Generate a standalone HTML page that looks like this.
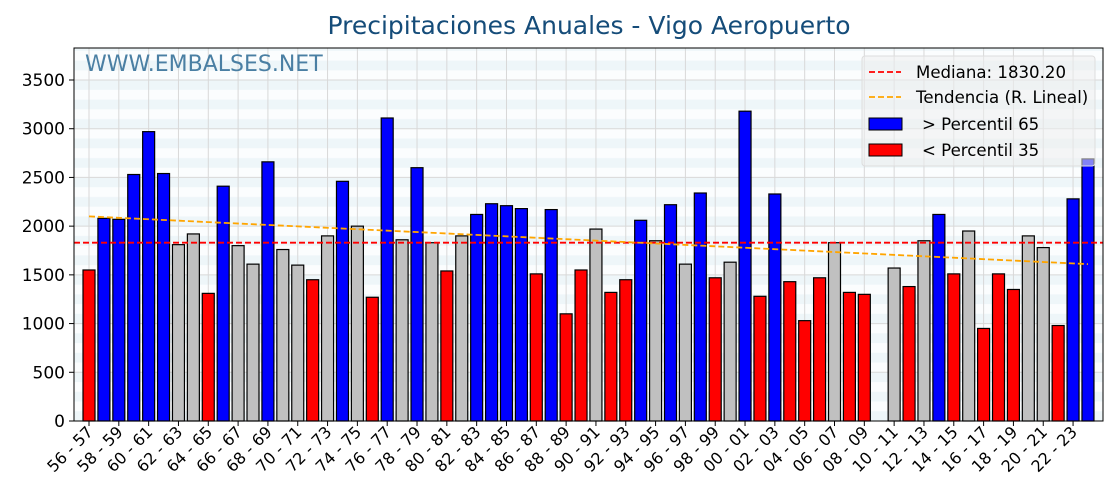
<!DOCTYPE html>
<html><head><meta charset="utf-8"><style>
body{margin:0;background:#fff;}
svg{display:block;font-family:"DejaVu Sans","Liberation Sans",sans-serif;}
</style></head><body>
<svg id="chart" width="1120" height="500">
<defs>
<pattern id="stripes" x="0" y="421" width="10" height="19.48" patternUnits="userSpaceOnUse">
<rect width="10" height="19.48" fill="#fbfdfe"/><rect y="9.74" width="10" height="9.74" fill="#eef6f9"/>
</pattern>
</defs>
<text x="589" y="34" text-anchor="middle" font-size="25" fill="#154c79">Precipitaciones Anuales - Vigo Aeropuerto</text>
<rect x="74" y="48" width="1029" height="373" fill="url(#stripes)"/>
<g id="grid"></g>
<text x="85" y="71" font-size="22" fill="#4a7fa3">WWW.EMBALSES.NET</text>
<g id="bars"></g>
<g id="lines"></g>
<rect x="74" y="48" width="1029" height="373" fill="none" stroke="#000" stroke-width="1"/>
<g id="axes"></g>
<g>
<rect x="862" y="56" width="233" height="110" rx="3" fill="#eeeeee" fill-opacity="0.55" stroke="#ddd"/>
<line x1="869" y1="72" x2="901" y2="72" stroke="red" stroke-width="1.8" stroke-dasharray="6,3"/>
<text x="916" y="78" font-size="16.6">Mediana: 1830.20</text>
<line x1="869" y1="97" x2="901" y2="97" stroke="orange" stroke-width="1.8" stroke-dasharray="6,3"/>
<text x="916" y="103" font-size="16.6">Tendencia (R. Lineal)</text>
<rect x="869" y="118" width="33" height="12" fill="blue" stroke="#000"/>
<text x="922" y="130" font-size="16.6">&gt; Percentil 65</text>
<rect x="869" y="144" width="33" height="12" fill="red" stroke="#000"/>
<text x="922" y="156" font-size="16.6">&lt; Percentil 35</text>
</g>
</svg>
<script>
const seasons=["56 - 57","57 - 58","58 - 59","59 - 60","60 - 61","61 - 62","62 - 63","63 - 64","64 - 65","65 - 66","66 - 67","67 - 68","68 - 69","69 - 70","70 - 71","71 - 72","72 - 73","73 - 74","74 - 75","75 - 76","76 - 77","77 - 78","78 - 79","79 - 80","80 - 81","81 - 82","82 - 83","83 - 84","84 - 85","85 - 86","86 - 87","87 - 88","88 - 89","89 - 90","90 - 91","91 - 92","92 - 93","93 - 94","94 - 95","95 - 96","96 - 97","97 - 98","98 - 99","99 - 00","00 - 01","01 - 02","02 - 03","03 - 04","04 - 05","05 - 06","06 - 07","07 - 08","08 - 09","09 - 10","10 - 11","11 - 12","12 - 13","13 - 14","14 - 15","15 - 16","16 - 17","17 - 18","18 - 19","19 - 20","20 - 21","21 - 22","22 - 23","23 - 24"];
const rain=[1550,2080,2070,2530,2970,2540,1810,1920,1310,2410,1800,1610,2660,1760,1600,1450,1900,2460,2000,1270,3110,1860,2600,1830,1540,1900,2120,2230,2210,2180,1510,2170,1100,1550,1970,1320,1450,2060,1850,2220,1610,2340,1470,1630,3180,1280,2330,1430,1030,1470,1830,1320,1300,0,1570,1380,1850,2120,1510,1950,950,1510,1350,1900,1780,980,2280,2690];
const yTicks=[0,500,1000,1500,2000,2500,3000,3500];
const median=[1830.2];
const trend=[2100,1610];
const p65=2040, p35=1560;
const NS="http://www.w3.org/2000/svg";
const X=i=>89+i*14.91, Y=v=>421-v*341/3500;
function mk(t,a,p){const e=document.createElementNS(NS,t);for(const k in a)e.setAttribute(k,a[k]);p.appendChild(e);return e;}
const grid=document.getElementById('grid'),bars=document.getElementById('bars'),lines=document.getElementById('lines'),axes=document.getElementById('axes');
yTicks.forEach(v=>{
 const l=mk('line',{x1:74,x2:1103,y1:Y(v),y2:Y(v),stroke:'#d8d8d8','stroke-width':1},grid);
 
 
 const tk=mk('line',{x1:69,x2:74,y1:Y(v),y2:Y(v),stroke:'#000'},axes);
 
 
 const t=mk('text',{x:65,y:Y(v)+6,'text-anchor':'end','font-size':17},axes);
 t.textContent=v;
 
 
});
seasons.forEach((s,i)=>{
 const v=rain[i];
 if(i%2===0){
  const g=mk('line',{x1:X(i),x2:X(i),y1:48,y2:421,stroke:'#d8d8d8'},grid);
  
  
  const tk=mk('line',{x1:X(i),x2:X(i),y1:421,y2:426,stroke:'#000'},axes);
  
  
  const t=mk('text',{x:X(i)+5,y:433,'text-anchor':'end','font-size':16,transform:`rotate(-45 ${X(i)+5} 433)`},axes);
  t.textContent=s;
  
  
 }
 if(v<=0)return;
 const col=v>p65?'blue':(v<p35?'red':'#c0c0c0');
 const b=mk('rect',{x:X(i)-6,y:Y(v),width:12,height:421-Y(v),fill:col,stroke:'#000','stroke-width':1.2},bars);
 
 
});
const m=mk('line',{x1:74,x2:1103,y1:Y(median[0]),y2:Y(median[0]),stroke:'red','stroke-width':1.8,'stroke-dasharray':'6,3'},lines);


const tr=mk('line',{x1:X(0),x2:X(rain.length-1),y1:Y(trend[0]),y2:Y(trend[1]),stroke:'orange','stroke-width':1.8,'stroke-dasharray':'6,3'},lines);


</script>
</body></html>
